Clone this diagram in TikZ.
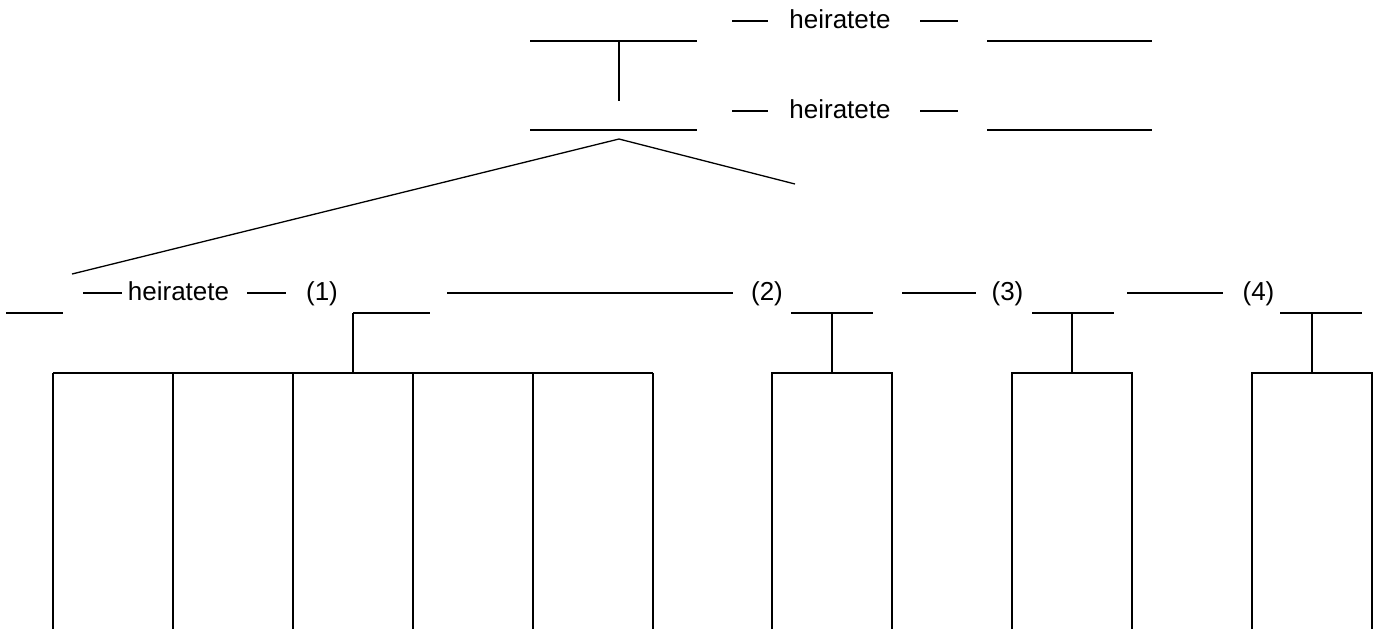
\documentclass[tikz,border=0pt]{standalone}
\usepackage{fontspec}
\setmainfont{Liberation Sans}
\begin{document}
\begin{tikzpicture}[x=0.5pt,y=-0.5pt,
  lbl/.style={font=\fontsize{13}{15}\selectfont, inner sep=0pt, anchor=base},
  blank/.style={line width=0.75pt},
  frame/.style={line width=0.65pt}]
\useasboundingbox (0,0) rectangle (1375,629);

% --- parents of the first generation ---
\coordinate (p1a) at (530,41);  \coordinate (p1b) at (697,41);
\coordinate (s1a) at (987,41);  \coordinate (s1b) at (1152,41);
\node[lbl] (m1) at (840,28) {heiratete};
\coordinate (m1la) at (732,21); \coordinate (m1lb) at (768,21);
\coordinate (m1ra) at (920,21); \coordinate (m1rb) at (958,21);

\coordinate (p2a) at (530,130); \coordinate (p2b) at (697,130);
\coordinate (s2a) at (987,130); \coordinate (s2b) at (1152,130);
\node[lbl] (m2) at (840,118) {heiratete};
\coordinate (m2la) at (732,111); \coordinate (m2lb) at (768,111);
\coordinate (m2ra) at (920,111); \coordinate (m2rb) at (958,111);

\draw[blank] (p1a) -- (p1b);
\draw[blank] (s1a) -- (s1b);
\draw[blank] (p2a) -- (p2b);
\draw[blank] (s2a) -- (s2b);
\draw[blank] (m1la) -- (m1lb);
\draw[blank] (m1ra) -- (m1rb);
\draw[blank] (m2la) -- (m2lb);
\draw[blank] (m2ra) -- (m2rb);

% descent from the upper couple
\coordinate (d1a) at (619,41); \coordinate (d1b) at (619,101);
\draw[frame] (d1a) -- (d1b);

% fan of children below the second line
\coordinate (apex) at (619,139);
\coordinate (fanL) at (72,274);
\coordinate (fanR) at (795,184);
\draw[frame] (fanL) -- (apex) -- (fanR);

% --- marriages row ---
\coordinate (c0a) at (6,313);   \coordinate (c0b) at (63,313);
\coordinate (h1a) at (83,293);  \coordinate (h1b) at (122,293);
\node[lbl] (m3) at (178.5,300) {heiratete};
\coordinate (h2a) at (247,293); \coordinate (h2b) at (286,293);
\node[lbl] (n1) at (322,300) {(1)};
\coordinate (w1a) at (353,313); \coordinate (w1b) at (430,313);
\coordinate (h3a) at (447,293); \coordinate (h3b) at (733,293);
\node[lbl] (n2) at (767,300) {(2)};
\coordinate (w2a) at (791,313); \coordinate (w2b) at (873,313);
\coordinate (h4a) at (902,293); \coordinate (h4b) at (976,293);
\node[lbl] (n3) at (1007.5,300) {(3)};
\coordinate (w3a) at (1032,313); \coordinate (w3b) at (1114,313);
\coordinate (h5a) at (1127,293); \coordinate (h5b) at (1223,293);
\node[lbl] (n4) at (1258.5,300) {(4)};
\coordinate (w4a) at (1280,313); \coordinate (w4b) at (1362,313);

\foreach \a/\b in {c0a/c0b,h1a/h1b,h2a/h2b,w1a/w1b,h3a/h3b,
                   w2a/w2b,h4a/h4b,w3a/w3b,h5a/h5b,w4a/w4b}
  \draw[blank] (\a) -- (\b);

% --- children columns ---
\coordinate (g1) at (353,373);
\coordinate (g2) at (832,373);
\coordinate (g3) at (1072,373);
\coordinate (g4) at (1312,373);
\draw[frame] (w1a) -- (g1);
\draw[frame] (832,313) -- (g2);
\draw[frame] (1072,313) -- (g3);
\draw[frame] (1312,313) -- (g4);

% five columns of the first marriage
\draw[frame] (53,373) -- (653,373);
\foreach \k in {0,...,5}
  \draw[frame] ({53+120*\k},373) -- ({53+120*\k},629);

% single columns of marriages (2)-(4)
\foreach \x in {772,1012,1252}
  \draw[frame] (\x,629) -- (\x,373) -- (\x+120,373) -- (\x+120,629);
\end{tikzpicture}
\end{document}
